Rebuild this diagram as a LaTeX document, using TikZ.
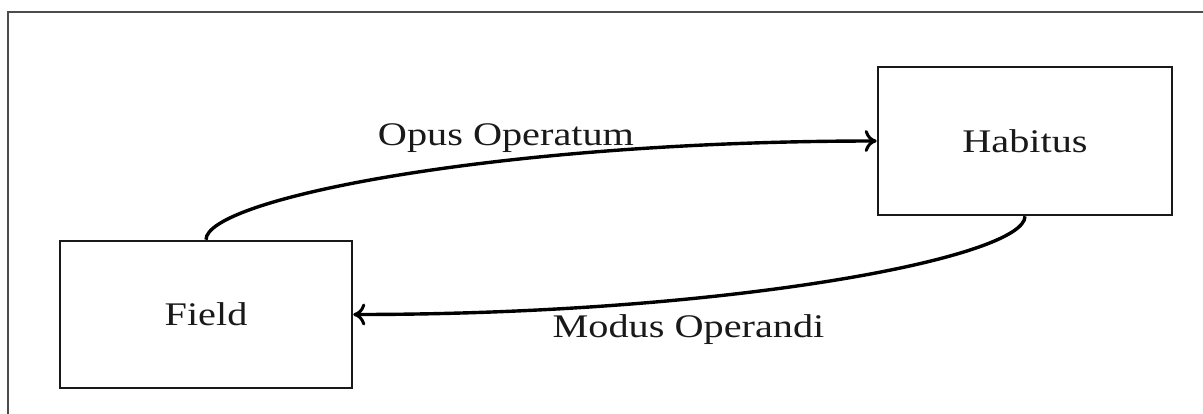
\documentclass[tikz,border=0pt]{standalone}
\usepackage{fontspec}
\usepackage{graphicx}
\setmainfont{Liberation Serif}
\usetikzlibrary{arrows.meta}
\newcommand{\wtxt}[1]{\scalebox{1.22}[1]{#1}}
\tikzset{
  box/.style={draw=black!90, line width=2.6pt, minimum width=292pt, minimum height=147pt, inner sep=0pt,
    font=\fontsize{33}{40}\selectfont, text=black!90},
  conn/.style={line width=3.4pt, -{To[length=12pt,width=22pt,line width=3pt]}},
  lbl/.style={anchor=base, inner sep=0pt, font=\fontsize{33}{40}\selectfont, text=black!90},
  frame/.style={draw=black!70, line width=2.2pt}
}
\begin{document}
\begin{tikzpicture}[x=1pt,y=-1pt]
\useasboundingbox[fill=white] (0,0) rectangle (1203,413);
\begin{scope}
  \clip (0,0) rectangle (1203,413);
  \draw[frame] (8,12) rectangle (1230,440);
\end{scope}
\node[box] (field) at (206,314.5) {\wtxt{Field}};
\node[box, minimum width=294pt, minimum height=148pt] (habitus) at (1025,141) {\wtxt{Habitus}};
\draw[conn] (field.north) .. controls +(0,-41) and +(-378,0) .. (habitus.west);
\draw[conn] (habitus.south) .. controls +(0,41) and +(378,0) .. (field.east);
\node[lbl] (opus) at (506,145) {\wtxt{Opus Operatum}};
\node[lbl] (modus) at (688.5,337) {\wtxt{Modus Operandi}};
\end{tikzpicture}
\end{document}
